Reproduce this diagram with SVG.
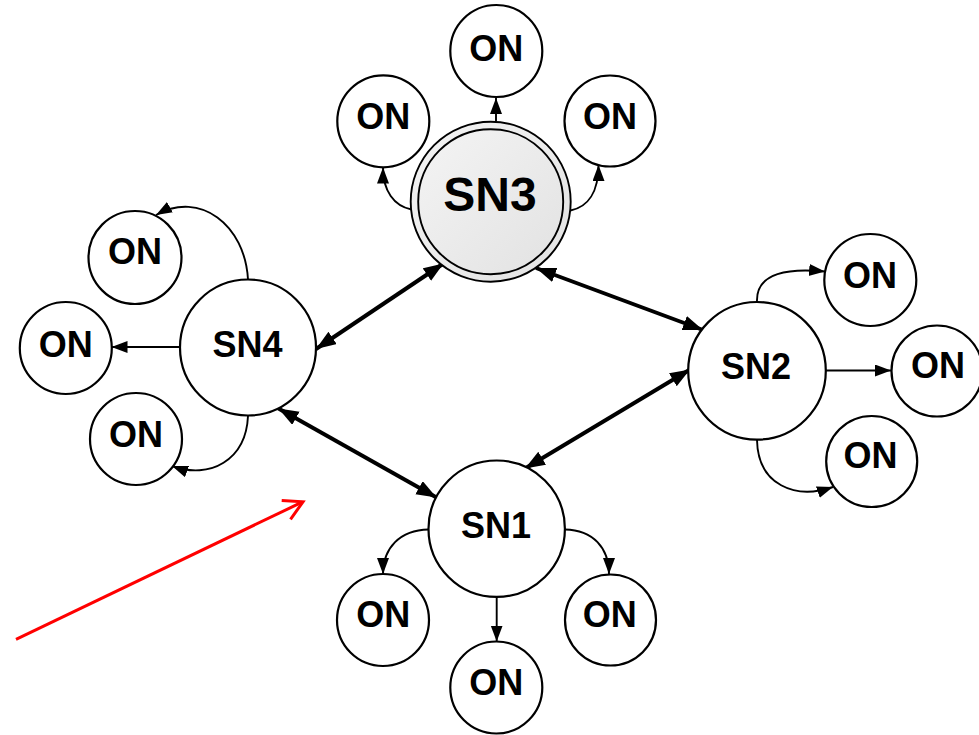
<svg xmlns="http://www.w3.org/2000/svg" width="979" height="735" viewBox="0 0 979 735">
  <defs>
    <linearGradient id="hubFill" x1="0" y1="0" x2="1" y2="1">
      <stop offset="0" stop-color="#f4f4f4"/>
      <stop offset="1" stop-color="#e2e2e2"/>
    </linearGradient>
    <marker id="headThin" markerUnits="userSpaceOnUse" markerWidth="17" markerHeight="13" refX="16" refY="6" orient="auto">
      <path d="M0,0 L16,6 L0,12 Z" fill="#000"/>
    </marker>
    <marker id="headThick" markerUnits="userSpaceOnUse" markerWidth="21" markerHeight="16" refX="20" refY="7.5" orient="auto-start-reverse">
      <path d="M0,0 L20,7.5 L0,15 Z" fill="#000"/>
    </marker>
  </defs>
  <style>
    .node { fill: #fff; stroke: #000; stroke-width: 2.2; }
    .hub { fill: url(#hubFill); stroke: #000; stroke-width: 1.9; }
    .lbl { font-family: "Liberation Sans", Arial, sans-serif; font-weight: bold; font-size: 36px; text-anchor: middle; fill: #000; }
    .big { font-size: 48px; }
    .thin { fill: none; stroke: #000; stroke-width: 1.9; marker-end: url(#headThin); }
    .thick { fill: none; stroke: #000; stroke-width: 4; marker-start: url(#headThick); marker-end: url(#headThick); }
    .pointer { fill: none; stroke: #ff0000; stroke-width: 3; }
  </style>

  <rect width="979" height="735" fill="#fff"/>

  <!-- links between super nodes and to ordinary nodes -->
  <g id="connectors">
    <line class="thick" x1="316" y1="349" x2="443.5" y2="263.5"/>
    <line class="thick" x1="536" y1="268" x2="703" y2="330"/>
    <line class="thick" x1="278.5" y1="408.5" x2="436.5" y2="497.5"/>
    <line class="thick" x1="525" y1="468.5" x2="690" y2="369.5"/>

    <!-- SN3 fan-out -->
    <path class="thin" d="M496,121.5 L496,98"/>
    <path class="thin" d="M411.5,209.5 C394,206 383,191 383,167.5"/>
    <path class="thin" d="M570.5,210.5 C588,207 598.5,192 598.5,165"/>

    <!-- SN4 fan-out -->
    <path class="thin" d="M248,279.5 C245,225 200,190 156,215"/>
    <path class="thin" d="M180,347 L111.5,347"/>
    <path class="thin" d="M248,416 C246,460 210,480 172,466"/>

    <!-- SN2 fan-out -->
    <path class="thin" d="M757,301.5 C756,272 790,268 825,271.5"/>
    <path class="thin" d="M826,370.5 L891,370.5"/>
    <path class="thin" d="M757,440 C758,485 795,500 833,487"/>

    <!-- SN1 fan-out -->
    <path class="thin" d="M428.5,529.5 C400,530 383,548 383,574"/>
    <path class="thin" d="M565,529.5 C593,530 609,548 609,574"/>
    <path class="thin" d="M496.7,597 L496.7,641.5"/>
  </g>

  <!-- super nodes -->
  <g id="sn3">
    <circle class="hub" cx="490.7" cy="201.7" r="80"/>
    <circle class="hub" cx="490.7" cy="201.7" r="72.5"/>
    <text class="lbl big" x="490" y="211">SN3</text>
  </g>
  <g id="sn4">
    <circle class="node" cx="248" cy="347.5" r="68"/>
    <text class="lbl" x="247.5" y="357">SN4</text>
  </g>
  <g id="sn2">
    <circle class="node" cx="757" cy="370.8" r="68.8"/>
    <text class="lbl" x="756" y="378.5">SN2</text>
  </g>
  <g id="sn1">
    <circle class="node" cx="496.7" cy="528.7" r="68.2"/>
    <text class="lbl" x="496" y="537.5">SN1</text>
  </g>

  <!-- ordinary nodes around SN3 -->
  <g id="on3-top">
    <circle class="node" cx="496.3" cy="51" r="46"/>
    <text class="lbl" x="496.3" y="61">ON</text>
  </g>
  <g id="on3-left">
    <circle class="node" cx="383.3" cy="121.3" r="46"/>
    <text class="lbl" x="383.3" y="128.5">ON</text>
  </g>
  <g id="on3-right">
    <circle class="node" cx="610" cy="121" r="45.5"/>
    <text class="lbl" x="610" y="128.5">ON</text>
  </g>

  <!-- ordinary nodes around SN4 -->
  <g id="on4-upper">
    <circle class="node" cx="135" cy="257.5" r="46.5"/>
    <text class="lbl" x="135" y="264">ON</text>
  </g>
  <g id="on4-left">
    <circle class="node" cx="65.8" cy="348" r="46"/>
    <text class="lbl" x="65.8" y="357">ON</text>
  </g>
  <g id="on4-lower">
    <circle class="node" cx="136" cy="439" r="46"/>
    <text class="lbl" x="136" y="447">ON</text>
  </g>

  <!-- ordinary nodes around SN2 -->
  <g id="on2-upper">
    <circle class="node" cx="870.3" cy="280" r="46"/>
    <text class="lbl" x="870" y="287.5">ON</text>
  </g>
  <g id="on2-right">
    <circle class="node" cx="937" cy="371" r="45.5"/>
    <text class="lbl" x="938" y="377.5">ON</text>
  </g>
  <g id="on2-lower">
    <circle class="node" cx="871.7" cy="461.5" r="45.5"/>
    <text class="lbl" x="870.5" y="467.5">ON</text>
  </g>

  <!-- ordinary nodes around SN1 -->
  <g id="on1-left">
    <circle class="node" cx="383" cy="620" r="46"/>
    <text class="lbl" x="383.3" y="626.5">ON</text>
  </g>
  <g id="on1-bottom">
    <circle class="node" cx="496.3" cy="687.5" r="46"/>
    <text class="lbl" x="496.3" y="695">ON</text>
  </g>
  <g id="on1-right">
    <circle class="node" cx="610.5" cy="620" r="45.5"/>
    <text class="lbl" x="609.7" y="626.5">ON</text>
  </g>

  <!-- red pointer arrow -->
  <g id="pointer">
    <path class="pointer" d="M16,639.3 L302,502.2"/>
    <path class="pointer" d="M281.7,500.5 L303,501.8 L290.5,519.3"/>
  </g>
</svg>
